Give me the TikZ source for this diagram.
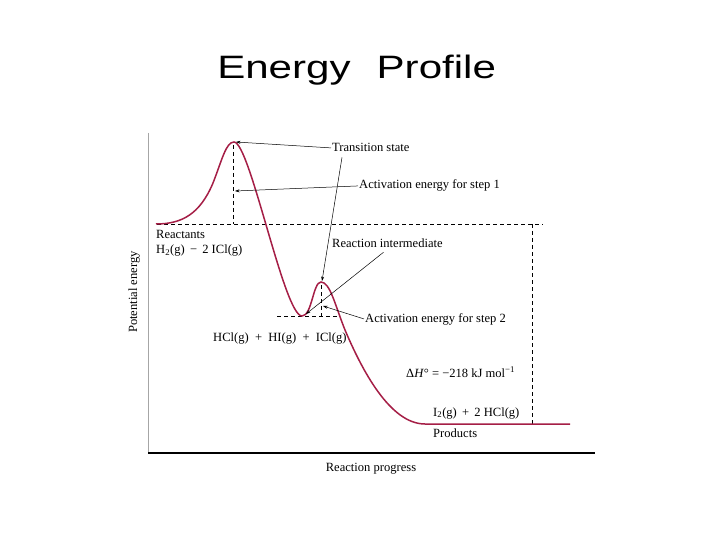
\documentclass[tikz,border=0pt]{standalone}
\usepackage{fontspec}
\setmainfont{Liberation Serif}
\newfontfamily\titlefont{Liberation Sans}
\usetikzlibrary{arrows.meta,calc}
\definecolor{curvecol}{RGB}{165,30,70}
\begin{document}
\begin{tikzpicture}[x=1bp,y=-1bp,
  lbl/.style={inner sep=0pt,anchor=base west,font=\fontsize{12.6}{14}\selectfont},
  pointer/.style={draw=black,line width=0.5bp,-{Stealth[length=4.5bp,width=3bp]}},
  guide/.style={draw=black,line width=0.8bp,dash pattern=on 4bp off 3bp},
  energy/.style={draw=curvecol,line width=1.5bp}]
\useasboundingbox (0,0) rectangle (720,540);
\fill[white] (0,0) rectangle (720,540);
% title
\node[font=\titlefont\fontsize{32.5}{36}\selectfont, xscale=1.3, anchor=base west, inner sep=0pt] (title) at (217,79) {Energy\hspace{0.62em}Profile};
% axes
\draw[gray!70, line width=0.8bp] (148,133) -- (148,453);
\draw[black, line width=1.2bp] (148,453) -- (595,453);
% guides
\draw[guide] (157,224) -- (543,224);
\draw[guide] (233,145) -- (233,224);
\draw[guide] (277,316) -- (340,316);
\draw[guide] (321,285) -- (321,316);
\draw[guide] (532,224) -- (532,424);
% energy curve
\draw[energy] (156,224) .. controls (182,224) and (200,214) .. (213,183)
  .. controls (222,160) and (226,142) .. (234,142)
  .. controls (250,142) and (284,316) .. (302,316)
  .. controls (312,316) and (313,282) .. (321,282)
  .. controls (330,282) and (335,305) .. (345,330)
  .. controls (362,370) and (390,424) .. (425,424) -- (570,424);
% points
\coordinate (peak1) at (236,142);
\coordinate (peak2) at (322,281);
\coordinate (ea1) at (235,191);
\coordinate (ea2) at (323,306);
\coordinate (inter) at (306,314);
% labels
\node[lbl] (ts) at (332,152) {Transition state};
\node[lbl] (ae1) at (359,189) {Activation energy for step 1};
\node[lbl] (ri) at (332,248) {Reaction intermediate};
\node[lbl] (ae2) at (365,322) {Activation energy for step 2};
\node[lbl] (react) at (156,239) {Reactants};
\node[lbl] (reacteq) at (156,254) {H\textsubscript{2}(g) \,−\, 2 ICl(g)};
\node[lbl] (inteq) at (213,341) {HCl(g)\enspace+\enspace HI(g)\enspace+\enspace ICl(g)};
\node[lbl] (dh) at (406,377) {Δ\textit{H}° = −218 kJ mol\textsuperscript{−1}};
\node[lbl] (prodeq) at (433,416) {I\textsubscript{2}(g)\, + \,2 HCl(g)};
\node[lbl] (prod) at (433,437) {Products};
\node[lbl,anchor=base] (xlab) at (371,471) {Reaction progress};
\node[lbl,anchor=center,rotate=90] (ylab) at (134,292) {Potential energy};
% pointers
\draw[pointer] ([xshift=-1bp]ts.west) -- (peak1);
\draw[pointer] ($(ts.south west)+(10,5)$) -- (peak2);
\draw[pointer] ([xshift=-1bp]ae1.west) -- (ea1);
\draw[pointer] ($(ri.south)+(-4,4)$) -- (inter);
\draw[pointer] ([xshift=-1bp]ae2.west) -- (ea2);
\end{tikzpicture}
\end{document}
